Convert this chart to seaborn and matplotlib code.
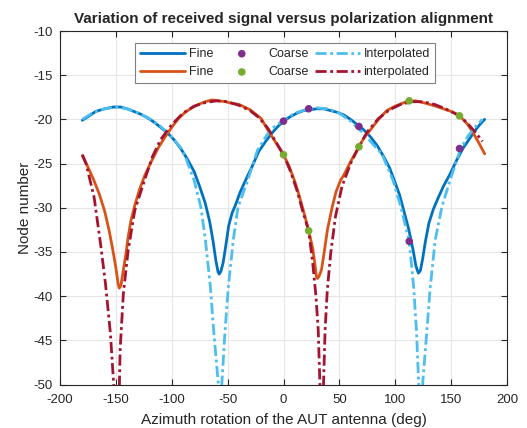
import numpy as np
import pandas as pd
import matplotlib
matplotlib.use("Agg")
import matplotlib.pyplot as plt
import seaborn as sns

# ---------------- data ----------------
fine_a_x = [-180, -175, -168, -160, -152, -146, -140, -134, -128, -122, -116, -110, -104, -98, -92, -86,
            -80, -75, -70, -66, -63, -60.5, -58.5, -57.5, -56, -54, -52, -49, -46, -43, -39, -34, -28, -22,
            -16, -10, -5, 0, 6, 12, 18, 24, 30, 36, 42, 48, 54, 60, 66, 72, 78, 84, 90, 95, 100, 104, 108,
            112, 116, 118.5, 120.7, 122.5, 124.5, 127, 130, 134, 138, 143, 149, 155, 161, 167, 173, 177, 180]
fine_a_y = [-20.1, -19.7, -19.1, -18.8, -18.6, -18.6, -18.8, -19.1, -19.4, -19.8, -20.3, -20.9, -21.5, -22.3,
            -23.3, -24.5, -25.9, -27.6, -29.5, -31.6, -33.8, -36.0, -37.3, -37.5, -37.2, -36.2, -34.6, -32.0,
            -30.6, -29.7, -28.3, -26.9, -25.3, -23.6, -22.5, -21.5, -20.8, -20.2, -19.7, -19.3, -19.0, -18.9,
            -18.8, -18.8, -19.0, -19.2, -19.5, -20.0, -20.6, -21.2, -22.0, -23.0, -24.3, -25.5, -27.2, -28.6,
            -30.5, -32.4, -34.8, -36.6, -37.4, -37.1, -35.8, -33.8, -31.8, -30.2, -29.0, -27.6, -26.2, -24.6,
            -23.2, -22.1, -21.0, -20.4, -20.0]

fine_b_x = [-180, -175, -170, -165, -160, -156, -153, -150, -148, -147, -145.5, -143.5, -141, -139, -136.6,
            -133, -129, -124, -118, -112, -106, -100, -94, -88, -82, -76, -70, -64, -58, -52, -46, -40, -35,
            -30, -25, -20, -14, -8, -3, 0, 5, 10, 14, 18.6, 22.5, 26, 28, 29.5, 30.5, 32, 34, 36, 39.3, 43.6,
            47, 51, 54, 60, 67.4, 72, 77.7, 85, 92.5, 100, 110, 118, 128, 136, 143, 150, 155, 160, 165, 170,
            175, 180]
fine_b_y = [-24.1, -25.4, -26.8, -28.4, -30.4, -32.6, -34.6, -36.8, -38.6, -39.1, -38.8, -37.2, -35.2, -33.3,
            -31.5, -29.7, -28.0, -26.3, -24.7, -23.2, -22.0, -20.9, -19.9, -19.2, -18.7, -18.3, -18.0, -17.8,
            -17.9, -18.0, -18.2, -18.3, -18.6, -18.9, -19.4, -19.9, -21.2, -22.4, -23.4, -24.0, -25.3, -27.0,
            -28.6, -30.7, -32.6, -34.5, -36.3, -37.8, -38.0, -37.7, -37.0, -35.4, -32.5, -29.9, -28.2, -26.9,
            -26.3, -24.8, -23.1, -22.1, -21.2, -20.0, -19.0, -18.5, -18.0, -17.9, -18.2, -18.5, -18.8, -19.1,
            -19.4, -19.9, -20.6, -21.6, -22.7, -23.9]

coarse_x = [0, 22.5, 67.5, 112.5, 157.5]
coarse_a_y = [-20.2, -18.8, -20.8, -33.8, -23.3]
coarse_b_y = [-24.0, -32.6, -23.1, -17.9, -19.6]

interp_a_x = [-180, -170, -160, -150, -140, -130, -120, -110, -100, -90, -80, -74, -70, -65.4, -62.5, -58.3,
              -56.7, -55.2, -52.3, -49.4, -45, -40.7, -32, -23.3, -15, -10, 0, 10, 20, 30, 40, 50, 60, 70, 80,
              88, 98, 105, 112.5, 116.5, 119, 121, 122.7, 124.5, 128.3, 131.3, 135.7, 141.7, 149, 158, 165,
              172, 178]
interp_a_y = [-20.0, -19.2, -18.8, -18.6, -18.8, -19.3, -19.9, -20.8, -22.0, -23.5, -26.9, -29.9, -33.5,
              -39.0, -43.9, -50.0, -60.0, -50.0, -43.9, -39.0, -33.7, -29.9, -26.9, -23.5, -21.8, -21.0,
              -20.1, -19.3, -18.9, -18.7, -18.8, -19.3, -20.2, -21.4, -22.8, -23.9, -26.9, -29.9, -33.8,
              -39.0, -43.9, -50.0, -60.0, -50.0, -43.9, -39.0, -33.7, -29.9, -26.9, -23.5, -21.9, -20.8,
              -20.0]

interp_b_x = [-180, -176.7, -169.5, -163.7, -159.3, -154.9, -152, -148.5, -146.2, -143.3, -139, -133.1,
              -124.4, -117.2, -110, -100, -90, -80, -70, -60, -50, -40, -30, -22, -14, -8, 0, 6, 12, 17,
              22.5, 26.2, 29.1, 31.1, 32.6, 34.2, 35.8, 37.2, 39.2, 42.2, 46.5, 52.3, 60, 67.5, 75, 85, 95,
              105, 115, 125, 135, 145, 157.5, 165, 172, 178]
interp_b_y = [-24.0, -25.0, -28.8, -34.1, -38.6, -44.2, -49.9, -60.0, -46.1, -39.7, -34.8, -30.3, -26.9,
              -24.2, -22.3, -20.6, -19.3, -18.5, -18.1, -17.9, -18.0, -18.4, -19.0, -19.8, -21.0, -22.3,
              -24.0, -25.8, -28.0, -30.3, -32.6, -36.3, -40.1, -43.9, -50.0, -60.0, -50.0, -43.9, -39.3,
              -35.2, -31.0, -27.6, -25.0, -23.1, -21.4, -19.9, -18.9, -18.3, -18.0, -18.0, -18.3, -18.8,
              -19.6, -20.5, -21.5, -22.5]

xticks = [-200, -150, -100, -50, 0, 50, 100, 150, 200]
yticks = [-50, -45, -40, -35, -30, -25, -20, -15, -10]

title = "Variation of received signal versus polarization alignment"
xlabel = "Azimuth rotation of the AUT antenna (deg)"
ylabel = "Node number"

# ---------------- style ----------------
sns.set_style("whitegrid")
plt.rcParams['font.family'] = ['Liberation Sans', 'DejaVu Sans']
plt.rcParams['axes.unicode_minus'] = False
txt = "#262626"

c_blue = "#0072BD"
c_orange = "#D95319"
c_purple = "#7E2F8E"
c_green = "#77AC30"
c_lblue = "#4DBEEE"
c_dred = "#A2142F"

fig = plt.figure(figsize=(5.27, 4.28), dpi=100)
ax = fig.add_axes([60 / 527, 1 - 384.5 / 428, 447 / 527, 353.5 / 428])

df_fa = pd.DataFrame({"x": fine_a_x, "y": fine_a_y})
df_fb = pd.DataFrame({"x": fine_b_x, "y": fine_b_y})
df_ca = pd.DataFrame({"x": coarse_x, "y": coarse_a_y})
df_cb = pd.DataFrame({"x": coarse_x, "y": coarse_b_y})
df_ia = pd.DataFrame({"x": interp_a_x, "y": interp_a_y})
df_ib = pd.DataFrame({"x": interp_b_x, "y": interp_b_y})

dashdot = (4.0, 1.3, 1.0, 1.3)

sns.lineplot(data=df_fa, x="x", y="y", ax=ax, color=c_blue, lw=2.0, sort=False, label="Fine", zorder=3)
sns.lineplot(data=df_fb, x="x", y="y", ax=ax, color=c_orange, lw=2.0, sort=False, label="Fine", zorder=3)
sns.scatterplot(data=df_ca, x="x", y="y", ax=ax, color=c_purple, s=30, edgecolor="none", label="Coarse", zorder=5)
sns.scatterplot(data=df_cb, x="x", y="y", ax=ax, color=c_green, s=30, edgecolor="none", label="Coarse", zorder=5)
sns.lineplot(data=df_ia, x="x", y="y", ax=ax, color=c_lblue, lw=2.0, sort=False, label="Interpolated", zorder=4)
sns.lineplot(data=df_ib, x="x", y="y", ax=ax, color=c_dred, lw=2.0, sort=False, label="interpolated", zorder=4)
lines = ax.get_lines()
lines[-2].set_dashes(dashdot)
lines[-1].set_dashes(dashdot)

ax.set_xlim(-200, 200)
ax.set_ylim(-50, -10)
ax.set_xticks(xticks)
ax.set_yticks(yticks)
ax.tick_params(axis="both", direction="in", length=4, width=0.8, colors=txt, labelsize=9.5,
               top=True, right=True, bottom=True, left=True)
ax.tick_params(axis="x", pad=7)
ax.tick_params(axis="y", pad=5)
for s in ax.spines.values():
    s.set_visible(True)
    s.set_color(txt)
    s.set_linewidth(0.8)
ax.grid(True, color="#e6e6e6", lw=0.8)
ax.set_axisbelow(True)

ax.set_title(title, fontsize=11, fontweight="bold", color=txt, pad=6)
ax.set_xlabel(xlabel, fontsize=11, color=txt, labelpad=5)
ax.set_ylabel(ylabel, fontsize=11, color=txt, labelpad=1.5)

handles, labels = ax.get_legend_handles_labels()
leg = ax.legend(handles, labels, ncol=3, loc="upper center", bbox_to_anchor=(0.503, 0.966),
                borderaxespad=0.0,
                fontsize=9, frameon=True, fancybox=False, edgecolor="#808080", framealpha=1,
                handlelength=3.6, columnspacing=0.5, handletextpad=0.3, borderpad=0.4,
                labelspacing=0.5)
leg.get_frame().set_linewidth(0.8)
for t in leg.get_texts():
    t.set_color(txt)

fig.savefig("out.png", dpi=100)
